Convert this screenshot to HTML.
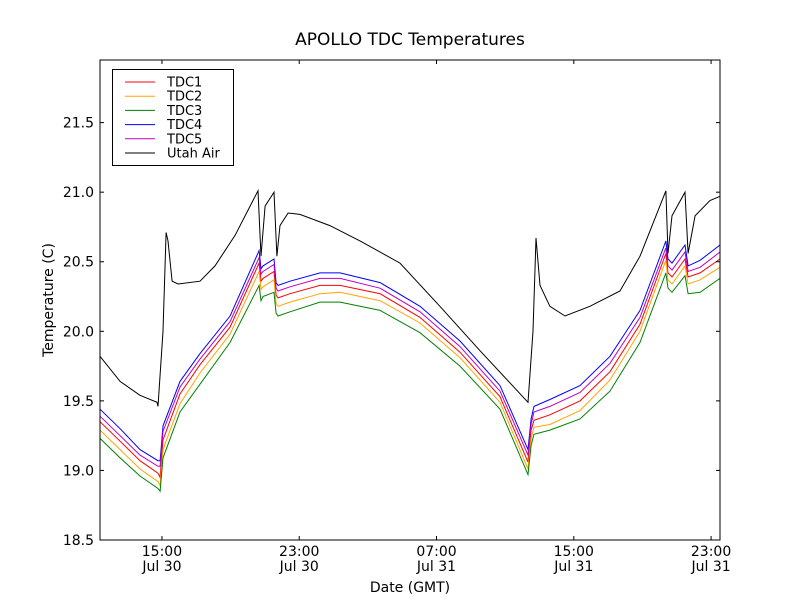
<!DOCTYPE html>
<html><head><meta charset="utf-8"><style>
body{margin:0;background:#fff;}
svg{display:block;font-family:"DejaVu Sans","Liberation Sans",sans-serif;}
</style></head><body>
<svg id="chart" width="800" height="600" viewBox="0 0 800 600">
<rect width="800" height="600" fill="#fff"/>
<text x="410" y="45" font-size="17" text-anchor="middle">APOLLO TDC Temperatures</text>
<g id="plot"></g>
<text x="410" y="592" font-size="14" text-anchor="middle">Date (GMT)</text>
<text transform="translate(53,300) rotate(-90)" font-size="14" text-anchor="middle">Temperature (C)</text>
</svg>
<script>
const airHours=[11.39,12.56,13.72,14.71,14.77,15.06,15.24,15.35,15.59,15.94,17.22,18.09,19.26,20.60,20.77,21.01,21.53,21.70,21.88,22.35,23.04,24.79,26.54,28.87,31.20,33.54,36.33,36.62,36.80,37.03,37.61,38.49,39.94,41.69,42.86,44.37,44.49,44.72,45.48,45.66,46.07,46.94,47.52];
const airValues=[19.82,19.64,19.54,19.49,19.46,20.0,20.71,20.65,20.36,20.34,20.36,20.47,20.69,21.01,20.54,20.9,21.0,20.54,20.76,20.85,20.84,20.76,20.65,20.49,20.18,19.86,19.49,20.0,20.67,20.33,20.18,20.11,20.18,20.29,20.54,21.01,20.56,20.83,21.0,20.56,20.83,20.94,20.97];
const tdcHours=[11.39,12.56,13.72,14.77,14.89,15.06,16.05,17.22,18.97,20.66,20.77,20.89,21.53,21.65,21.76,22.46,24.21,25.38,27.71,30.04,32.37,34.70,36.33,36.51,36.68,37.61,39.36,41.11,42.86,44.37,44.49,44.72,45.48,45.66,46.36,47.52];
const tdc4=[19.44,19.30,19.15,19.07,19.07,19.32,19.64,19.84,20.11,20.58,20.45,20.47,20.52,20.35,20.33,20.36,20.42,20.42,20.35,20.18,19.93,19.61,19.15,19.37,19.46,19.51,19.61,19.82,20.15,20.65,20.52,20.49,20.62,20.47,20.51,20.62];
const tdc5=[19.39,19.25,19.11,19.03,19.03,19.28,19.60,19.80,20.07,20.53,20.41,20.43,20.48,20.31,20.29,20.32,20.38,20.38,20.31,20.14,19.89,19.57,19.11,19.33,19.42,19.46,19.56,19.77,20.10,20.60,20.47,20.44,20.57,20.43,20.46,20.57];
const tdc1=[19.35,19.21,19.07,18.98,18.95,19.22,19.55,19.76,20.03,20.49,20.36,20.38,20.43,20.26,20.24,20.27,20.33,20.33,20.27,20.10,19.85,19.53,19.06,19.29,19.36,19.40,19.50,19.71,20.05,20.56,20.42,20.39,20.52,20.39,20.42,20.52];
const tdc2=[19.29,19.15,19.01,18.92,18.89,19.15,19.48,19.70,19.98,20.43,20.30,20.32,20.37,20.20,20.18,20.21,20.27,20.28,20.22,20.06,19.81,19.49,19.01,19.23,19.31,19.33,19.43,19.65,20.00,20.51,20.37,20.34,20.47,20.34,20.37,20.46];
const tdc3=[19.23,19.09,18.96,18.87,18.85,19.09,19.42,19.62,19.92,20.33,20.22,20.25,20.28,20.13,20.11,20.14,20.21,20.21,20.15,19.99,19.75,19.44,18.97,19.18,19.26,19.29,19.37,19.57,19.92,20.42,20.31,20.28,20.40,20.27,20.28,20.38];
const yTicks=[18.5,19.0,19.5,20.0,20.5,21.0,21.5];
const xTickHours=[15,23,31,39,47];
const xTickTimes=["15:00","23:00","07:00","15:00","23:00"];
const xTickDates=["Jul 30","Jul 30","Jul 31","Jul 31","Jul 31"];
const L=100,R=720,T=60,B=540,X0=11.39,X1=47.52,Y0=18.5,Y1=21.95;
const NS="http://www.w3.org/2000/svg";
function sx(h){return L+(h-X0)/(X1-X0)*(R-L);}
function sy(v){return B-(v-Y0)/(Y1-Y0)*(B-T);}
const g=document.getElementById('plot');
function mk(t,a){const e=document.createElementNS(NS,t);for(const k in a)e.setAttribute(k,a[k]);g.appendChild(e);return e;}
const series=[["tdc1-line",tdc1,"#ff0000"],["tdc2-line",tdc2,"#ffa500"],["tdc3-line",tdc3,"#008000"],["tdc4-line",tdc4,"#0000ff"],["tdc5-line",tdc5,"#bf00bf"]];
series.forEach(s=>{
 const p=mk('polyline',{points:tdcHours.map((h,i)=>sx(h).toFixed(1)+','+sy(s[1][i]).toFixed(1)).join(' '),fill:'none',stroke:s[2],'stroke-width':1});
 
 
});
const air=mk('polyline',{points:airHours.map((h,i)=>sx(h).toFixed(1)+','+sy(airValues[i]).toFixed(1)).join(' '),fill:'none',stroke:'#000','stroke-width':1});


const fr=mk('rect',{x:L,y:T,width:R-L,height:B-T,fill:'none',stroke:'#000','stroke-width':1});


yTicks.forEach(v=>{
 const y=sy(v);
 mk('line',{x1:L,x2:L+4,y1:y,y2:y,stroke:'#000'});
 mk('line',{x1:R,x2:R-4,y1:y,y2:y,stroke:'#000'});
 const t=mk('text',{x:L-6,y:y+5,'font-size':14,'text-anchor':'end'});t.textContent=v.toFixed(1);
 
 
});
xTickHours.forEach((h,i)=>{
 const x=sx(h);
 mk('line',{x1:x,x2:x,y1:B,y2:B-4,stroke:'#000'});
 mk('line',{x1:x,x2:x,y1:T,y2:T+4,stroke:'#000'});
 const t=mk('text',{x:x,y:B+16,'font-size':14,'text-anchor':'middle'});t.textContent=xTickTimes[i];
 
 
 const d=mk('text',{x:x,y:B+31,'font-size':14,'text-anchor':'middle'});d.textContent=xTickDates[i];
 
 
});
const lg=mk('rect',{x:112.5,y:69.5,width:121,height:96,fill:'#fff',stroke:'#000'});


const legNames=["TDC1","TDC2","TDC3","TDC4","TDC5","Utah Air"];
const legColors=["#ff0000","#ffa500","#008000","#0000ff","#bf00bf","#000"];
legNames.forEach((n,i)=>{
 const y=82+i*14.2;
 mk('line',{x1:125,x2:155,y1:y,y2:y,stroke:legColors[i]});
 const t=mk('text',{x:167,y:y+4.5,'font-size':13});t.textContent=n;
 
 
});
</script>
</body></html>
